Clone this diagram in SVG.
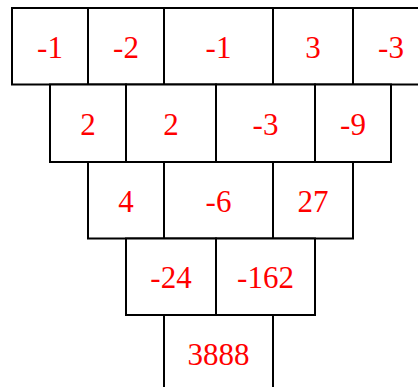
<svg xmlns="http://www.w3.org/2000/svg" width="418" height="387" viewBox="0 0 418 387">
<style>
.c rect{fill:#fff;stroke:#000;stroke-width:2}
.c text{font-family:"Liberation Serif","Times New Roman",serif;font-size:31px;fill:#ff0000;text-anchor:middle}
</style>
<rect width="418" height="387" fill="#fff"/>
<g id="r1c1" class="c"><rect x="12" y="8" width="76" height="76.5"/><text x="50" y="57.5">-1</text></g>
<g id="r1c2" class="c"><rect x="88" y="8" width="76" height="76.5"/><text x="126" y="57.5">-2</text></g>
<g id="r1c3" class="c"><rect x="164" y="8" width="109" height="76.5"/><text x="218.5" y="57.5">-1</text></g>
<g id="r1c4" class="c"><rect x="273" y="8" width="80" height="76.5"/><text x="313" y="57.5">3</text></g>
<g id="r1c5" class="c"><rect x="353" y="8" width="76" height="76.5"/><text x="391" y="57.5">-3</text></g>
<g id="r2c1" class="c"><rect x="50" y="84.5" width="76" height="77.5"/><text x="88" y="134.5">2</text></g>
<g id="r2c2" class="c"><rect x="126" y="84.5" width="90" height="77.5"/><text x="171" y="134.5">2</text></g>
<g id="r2c3" class="c"><rect x="216" y="84.5" width="99" height="77.5"/><text x="265.5" y="134.5">-3</text></g>
<g id="r2c4" class="c"><rect x="315" y="84.5" width="76" height="77.5"/><text x="353" y="134.5">-9</text></g>
<g id="r3c1" class="c"><rect x="88" y="162" width="76" height="76.5"/><text x="126" y="211.5">4</text></g>
<g id="r3c2" class="c"><rect x="164" y="162" width="109" height="76.5"/><text x="218.5" y="211.5">-6</text></g>
<g id="r3c3" class="c"><rect x="273" y="162" width="80" height="76.5"/><text x="313" y="211.5">27</text></g>
<g id="r4c1" class="c"><rect x="126" y="238.5" width="90" height="76.5"/><text x="171" y="288">-24</text></g>
<g id="r4c2" class="c"><rect x="216" y="238.5" width="99" height="76.5"/><text x="265.5" y="288">-162</text></g>
<g id="r5c1" class="c"><rect x="164" y="315" width="109" height="76.5"/><text x="218.5" y="365">3888</text></g>
<g id="connectors"></g>
</svg>
